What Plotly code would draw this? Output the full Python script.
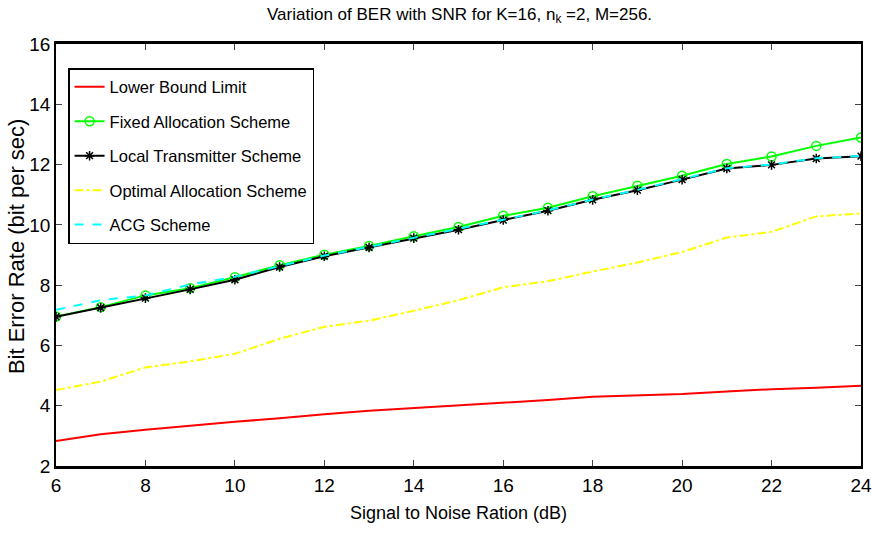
import plotly.graph_objects as go

snr = list(range(6, 25))
lower_bound = [2.83, 3.05, 3.2, 3.34, 3.47, 3.58, 3.72, 3.83, 3.92, 3.99, 4.1, 4.19, 4.3, 4.35, 4.39, 4.47, 4.55, 4.6, 4.66]
fixed_alloc = [6.96, 7.27, 7.66, 7.9, 8.26, 8.66, 9.01, 9.3, 9.62, 9.93, 10.3, 10.57, 10.95, 11.3, 11.63, 12.02, 12.27, 12.62, 12.9]
local_tx = [6.95, 7.25, 7.57, 7.86, 8.18, 8.6, 8.96, 9.25, 9.56, 9.84, 10.16, 10.47, 10.83, 11.15, 11.5, 11.87, 11.99, 12.2, 12.28]
optimal = [4.52, 4.8, 5.27, 5.47, 5.72, 6.22, 6.62, 6.82, 7.15, 7.5, 7.93, 8.13, 8.45, 8.75, 9.1, 9.58, 9.77, 10.28, 10.38]
acg = [7.18, 7.5, 7.66, 8.02, 8.28, 8.62, 8.98, 9.27, 9.57, 9.85, 10.17, 10.48, 10.84, 11.16, 11.52, 11.88, 12.0, 12.21, 12.29]

x_ticks = [6, 8, 10, 12, 14, 16, 18, 20, 22, 24]
y_ticks = [2, 4, 6, 8, 10, 12, 14, 16]

FONT = "Liberation Sans Narrow, Arial Narrow, Liberation Sans, Arial, sans-serif"

fig = go.Figure()
fig.add_trace(go.Scatter(x=snr, y=lower_bound, mode="lines", name="Lower Bound Limit",
                         legendgroup="a",
                         line=dict(color="#ff0000", width=2)))
fig.add_trace(go.Scatter(x=snr, y=fixed_alloc, mode="lines+markers", name="Fixed Allocation Scheme",
                         legendgroup="b",
                         line=dict(color="#00ff00", width=2),
                         marker=dict(symbol="circle-open", size=9, color="#00ff00", line=dict(width=1.5))))
fig.add_trace(go.Scatter(x=snr, y=local_tx, mode="lines+markers", name="Local Transmitter Scheme",
                         legendgroup="c",
                         line=dict(color="#000000", width=2),
                         marker=dict(symbol="asterisk-open", size=8, color="#000000", line=dict(width=1.5, color="#000000"))))
fig.add_trace(go.Scatter(x=snr, y=optimal, mode="lines", name="Optimal Allocation Scheme",
                         legendgroup="d",
                         line=dict(color="#ffff00", width=2, dash="dashdot")))
fig.add_trace(go.Scatter(x=snr, y=acg, mode="lines", name="ACG Scheme",
                         legendgroup="e",
                         line=dict(color="#00ffff", width=2, dash="dash")))

fig.update_layout(
    width=872, height=533,
    paper_bgcolor="white", plot_bgcolor="white",
    margin=dict(l=56, r=11, t=44, b=67, autoexpand=False),
    font=dict(family=FONT, color="black", size=16),
    title=dict(text="Variation of BER with SNR for K=16, n<sub>k</sub> =2, M=256.",
               x=0.527, xanchor="center", y=0.985, yanchor="top",
               font=dict(family=FONT, size=17)),
    showlegend=True,
    legend=dict(x=0.015, y=0.943, xanchor="left", yanchor="top",
                bgcolor="white", bordercolor="black", borderwidth=1.5,
                font=dict(family=FONT, size=16.5), tracegroupgap=10,
                itemwidth=30),
    xaxis=dict(range=[6, 24], tickvals=x_ticks, ticks="inside", ticklen=6,
               showline=True, linecolor="black", linewidth=2.5, mirror="ticks",
               showgrid=False, zeroline=False, automargin=False,
               title=dict(text="Signal to Noise Ration (dB)", standoff=12, font=dict(size=18)),
               tickfont=dict(size=19)),
    yaxis=dict(range=[2, 16], tickvals=y_ticks, ticks="inside", ticklen=6,
               showline=True, linecolor="black", linewidth=1.5, mirror="ticks",
               showgrid=False, zeroline=False, automargin=False,
               tickfont=dict(size=19)),
    annotations=[dict(text="Bit Error Rate (bit per sec)", textangle=-90,
                      xref="paper", yref="paper", x=-0.049, y=0.52,
                      xanchor="center", yanchor="middle", showarrow=False,
                      font=dict(family=FONT, size=22))],
)

fig.write_html("out.html", config={"displayModeBar": False},
               post_script="document.body.style.margin='0';")
